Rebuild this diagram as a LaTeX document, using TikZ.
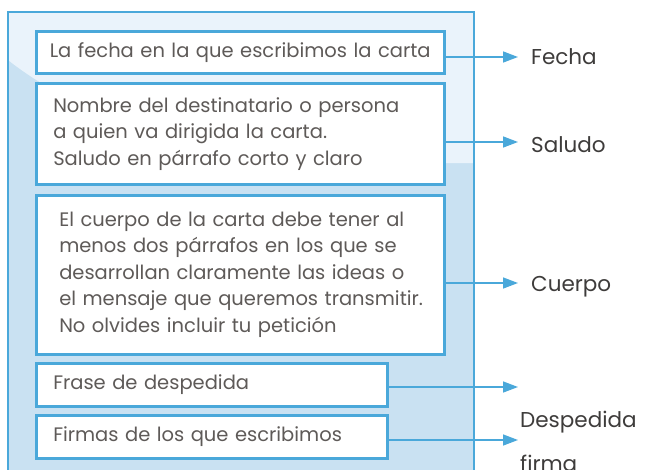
\documentclass[tikz,border=0pt]{standalone}
\usepackage{fontspec}
\setmainfont{Poppins}
\usetikzlibrary{arrows.meta,positioning}
\definecolor{frameblue}{HTML}{4AA8DA}
\definecolor{sheetlight}{HTML}{EAF3FB}
\definecolor{sheetdark}{HTML}{C9E1F2}
\definecolor{boxtext}{HTML}{5E5A58}
\definecolor{labtext}{HTML}{3E3C3B}
\tikzset{>=Triangle,
  part/.style={draw=frameblue,line width=2.5pt,fill=white,anchor=north west,align=left,
    text=boxtext,font=\fontsize{19.5}{26.5}\selectfont,inner ysep=0pt},
  link/.style={draw=frameblue,line width=1.5pt,-{Triangle[length=15pt,width=11pt]}},
  lab/.style={anchor=west,text=labtext,font=\fontsize{21.5}{25}\selectfont,inner sep=0pt}}
\begin{document}
\begin{tikzpicture}[x=1pt,y=-1pt]
\useasboundingbox (0,0) rectangle (645,469);
% sheet
\fill[sheetdark] (8,12) rectangle (474,480);
\fill[sheetlight] (8,12) -- (474,12) -- (474,163) -- (300,163) .. controls (120,140) and (40,85) .. (8,60) -- cycle;
\draw[frameblue,line width=2.5pt] (8,480) -- (8,12) -- (474,12) -- (474,480);
% parts of the letter
\node[part,minimum width=408pt,minimum height=42pt,text width=388pt,inner xsep=10pt,align=center] (fecha) at (35,30) {La fecha en la que escribimos la carta};
\node[part,minimum width=408pt,minimum height=101pt,text width=374pt,inner xsep=17pt] (saludo) at (35,82) {Nombre del destinatario o persona\\a quien va dirigida la carta.\\Saludo en párrafo corto y claro};
\node[part,minimum width=408pt,minimum height=159pt,text width=362pt,inner xsep=23pt] (cuerpo) at (35,194) {El cuerpo de la carta debe tener al\\menos dos párrafos en los que se\\desarrollan claramente las ideas o\\\mbox{el mensaje que queremos transmitir.}\\No olvides incluir tu petición};
\node[part,minimum width=351pt,minimum height=43pt,text width=317pt,inner xsep=17pt] (frase) at (35,362) {Frase de despedida};
\node[part,minimum width=351pt,minimum height=43pt,text width=317pt,inner xsep=17pt] (firmas) at (35,414) {Firmas de los que escribimos};
% arrow tips
\coordinate (t1) at (518,57);
\coordinate (t2) at (518,142);
\coordinate (t3) at (518,283);
\coordinate (t4) at (518,387);
\coordinate (t5) at (518,440);
\draw[link] (fecha.east |- t1) -- (t1);
\draw[link] (saludo.east |- t2) -- (t2);
\draw[link] (cuerpo.east |- t3) -- (t3);
\draw[link] (frase.east |- t4) -- (t4);
\draw[link] (firmas.east |- t5) -- (t5);
% labels
\node[lab] (lfecha) at (531,57) {Fecha};
\node[lab] (lsaludo) at (531,145) {Saludo};
\node[lab] (lcuerpo) at (531,287) {Cuerpo};
\node[lab] (ldesp) at (520,422) {Despedida};
\node[lab,below=22pt of ldesp.south west,anchor=north west] (lfirma) {firma};
\end{tikzpicture}
\end{document}
